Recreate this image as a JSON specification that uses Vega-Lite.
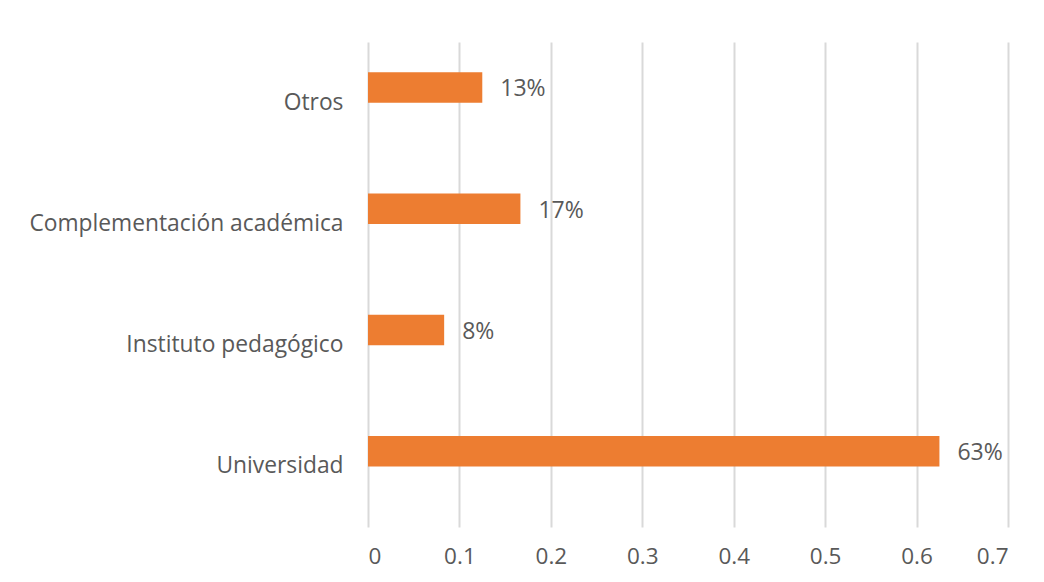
{
  "$schema": "https://vega.github.io/schema/vega-lite/v6.json",
  "width": 640,
  "height": 485,
  "autosize": {"type": "none"},
  "padding": {"left": 368, "top": 42, "right": 36, "bottom": 55},
  "background": "white",
  "config": {"view": {"stroke": null}, "font": "Open Sans"},
  "data": {
    "values": [
      {"categoria": "Otros", "serie": "Porcentaje", "valor": 0.125},
      {"categoria": "Complementación académica", "serie": "Porcentaje", "valor": 0.1667},
      {"categoria": "Instituto pedagógico", "serie": "Porcentaje", "valor": 0.0833},
      {"categoria": "Universidad", "serie": "Porcentaje", "valor": 0.625}
    ]
  },
  "encoding": {
    "y": {
      "field": "categoria",
      "type": "nominal",
      "sort": ["Otros", "Complementación académica", "Instituto pedagógico", "Universidad"],
      "scale": {"paddingInner": 0, "paddingOuter": 0},
      "axis": {
        "title": null,
        "ticks": false,
        "domain": false,
        "labelPadding": 25,
        "labelFontSize": 22.8,
        "labelColor": "#595959",
        "labelLimit": 500,
        "labelFont": "Open Sans"
      }
    },
    "yOffset": {
      "field": "serie",
      "type": "nominal",
      "scale": {"domain": ["Porcentaje", "vacío"], "paddingInner": 0, "paddingOuter": 1}
    },
    "x": {
      "field": "valor",
      "type": "quantitative",
      "scale": {"domain": [0, 0.7], "nice": false},
      "axis": {
        "title": null,
        "values": [0, 0.1, 0.2, 0.3, 0.4, 0.5, 0.6, 0.7],
        "format": ".1~f",
        "ticks": false,
        "domain": false,
        "grid": true,
        "gridColor": "#d9d9d9",
        "gridWidth": 2,
        "labelPadding": 18,
        "labelFontSize": 22.5,
        "labelColor": "#595959",
        "labelFont": "Open Sans"
      }
    }
  },
  "layer": [
    {"mark": {"type": "bar", "color": "#ED7D31"}},
    {
      "mark": {"type": "text", "align": "left", "baseline": "middle", "dx": 18, "dy": 2, "fontSize": 23, "color": "#595959", "font": "Open Sans"},
      "encoding": {"text": {"field": "valor", "type": "quantitative", "format": ".0%"}}
    }
  ]
}
